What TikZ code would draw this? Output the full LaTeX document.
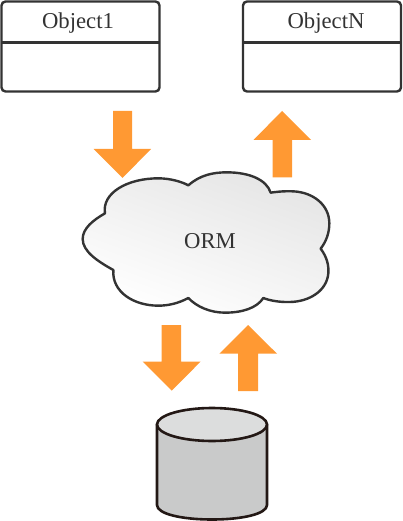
\documentclass[tikz,border=0pt]{standalone}
\usepackage{fontspec}
\setmainfont{Liberation Serif}
\definecolor{arrowor}{HTML}{FF9933}
\definecolor{inkgrey}{HTML}{333333}
\definecolor{cylink}{HTML}{231815}
\definecolor{cylbody}{HTML}{C9CACA}
\definecolor{cyltop}{HTML}{DCDDDD}
\tikzset{
  classbox/.style={draw=inkgrey,line width=2.4pt,rounded corners=4pt,fill=white,minimum width=158pt,minimum height=90pt,inner sep=0pt,outer sep=0pt},
  labeltext/.style={text=inkgrey,font=\fontsize{22.7}{27}\selectfont,inner sep=0pt},
  divider/.style={draw=inkgrey,line width=2.2pt},
  bigarrow/.style={fill=arrowor,draw=none},
  cloudshape/.style={draw=inkgrey,line width=2.4pt,line join=round,top color=black!10,bottom color=white,shading angle=-20},
  cylstroke/.style={draw=cylink,line width=2.6pt,line join=round}
}
\begin{document}
\begin{tikzpicture}[x=1pt,y=-1pt]
\useasboundingbox (0,0) rectangle (403,521);
% class boxes
\node[classbox] (objone) at (80.5,46.5) {};
\node[classbox] (objn) at (322,46.5) {};
\draw[divider] (objone.west |- 0,42.5) -- (objone.east |- 0,42.5);
\draw[divider] (objn.west |- 0,42.5) -- (objn.east |- 0,42.5);
\node[labeltext] (objonelabel) at (78,23) {Object1};
\node[labeltext] (objnlabel) at (326,23) {ObjectN};
% arrows
\fill[bigarrow] (113,111) -- (132,111) -- (132,149) -- (151,149) -- (122.5,178) -- (93.5,149) -- (113,149) -- cycle;
\fill[bigarrow] (282,111) -- (311,140) -- (292,140) -- (292,177.5) -- (272.5,177.5) -- (272.5,140) -- (253.5,140) -- cycle;
\fill[bigarrow] (161.5,325) -- (181,325) -- (181,361.5) -- (200.7,361.5) -- (171.7,390.7) -- (142.7,361.5) -- (161.5,361.5) -- cycle;
\fill[bigarrow] (248,325) -- (277,353.7) -- (258,353.7) -- (258,391) -- (238,391) -- (238,353.7) -- (219.3,353.7) -- cycle;
% cloud
\begin{scope}[shift={(70,160)},x=0.33333pt,y=-0.33333pt]
\path[cloudshape] (105,160) .. controls (95,100) and (170,55) .. (265,55)
 .. controls (300,55) and (335,65) .. (355,76)
 .. controls (390,45) and (430,37) .. (470,37)
 .. controls (540,37) and (590,60) .. (602,98)
 .. controls (630,94) and (650,93) .. (670,94)
 .. controls (730,97) and (778,135) .. (778,190)
 .. controls (778,220) and (768,245) .. (752,266)
 .. controls (770,290) and (777,315) .. (775,340)
 .. controls (770,395) and (715,425) .. (660,426)
 .. controls (630,427) and (600,422) .. (580,414)
 .. controls (560,445) and (515,458) .. (465,458)
 .. controls (420,458) and (380,440) .. (355,414)
 .. controls (325,430) and (295,437) .. (265,437)
 .. controls (190,437) and (125,395) .. (130,330)
 .. controls (85,305) and (38,275) .. (38,237)
 .. controls (38,205) and (70,180) .. (105,160) -- cycle;
\end{scope}
\node[labeltext] (orm) at (210,241) {ORM};
% cylinder
\path[cylstroke,fill=cylbody] (157,424) -- (157,505) .. controls (157,514) and (182,519.5) .. (212,519.5) .. controls (242,519.5) and (267,514) .. (267,505) -- (267,424) -- cycle;
\path[cylstroke,fill=cyltop] (212,424.5) ellipse [x radius=55,y radius=16.5];
\end{tikzpicture}
\end{document}
